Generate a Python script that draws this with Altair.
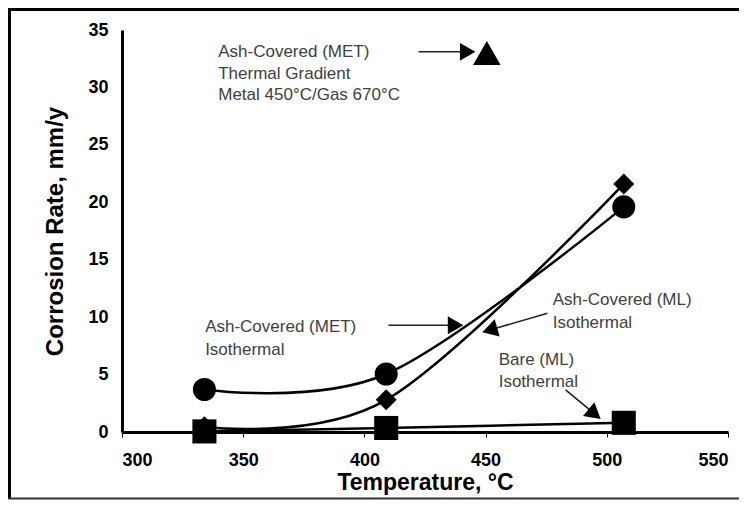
import math
import altair as alt
import pandas as pd

# ---- data ----
temps = [334, 409, 507]
met_iso = [3.7, 5.05, 19.6]        # Ash-Covered (MET) Isothermal  (circles)
ml_iso = [0.45, 2.8, 21.6]         # Ash-Covered (ML) Isothermal   (diamonds)
bare_ml = [0.05, 0.35, 0.8]        # Bare (ML) Isothermal          (squares)
grad_temp = [450.5]                # Ash-Covered (MET) Thermal Gradient (triangle)
grad_rate = [33.0]

x_ticks = [300, 350, 400, 450, 500, 550]
y_ticks = [0, 5, 10, 15, 20, 25, 30, 35]

ann_text = ["Ash-Covered (MET)", "Thermal Gradient", "Metal 450°C/Gas 670°C",
            "Ash-Covered (MET)", "Isothermal",
            "Ash-Covered (ML)", "Isothermal",
            "Bare (ML)", "Isothermal"]
ann_x = [339.7, 339.7, 339.7, 334.3, 334.3, 477.7, 477.7, 455.4, 455.4]
ann_y = [33.1, 31.2, 29.3, 9.14, 7.14, 11.49, 9.49, 6.27, 4.35]

arrow_x1 = [422.3, 409.9, 475.5, 483.0]
arrow_y1 = [33.1, 9.3, 10.33, 3.66]
arrow_x2 = [442.6, 437.6, 451.7, 495.0]
arrow_y2 = [33.1, 9.3, 8.88, 1.57]

W, H = 606, 402
XD, YD = [300, 550], [0, 35]
FONT = "Liberation Sans"

px_x = W / (XD[1] - XD[0])
px_y = H / (YD[1] - YD[0])
arrow_angle = [math.degrees(math.atan2(-(b2 - b1) * px_y, (a2 - a1) * px_x))
               for a1, b1, a2, b2 in zip(arrow_x1, arrow_y1, arrow_x2, arrow_y2)]

xscale = alt.Scale(domain=XD, nice=False, zero=False)
yscale = alt.Scale(domain=YD, nice=False, zero=False)
xaxis = alt.Axis(values=x_ticks, title="Temperature, °C", grid=False,
                 domainColor="black", domainWidth=3, tickColor="black",
                 tickSize=5, tickWidth=1, labelFontSize=18, labelFontWeight="bold",
                 labelColor="black", labelPadding=14, titleFontSize=23,
                 titleFontWeight="bold", titleColor="black", titlePadding=2,
                 labelFont=FONT, titleFont=FONT)
yaxis = alt.Axis(values=y_ticks, title="Corrosion Rate, mm/y", grid=False,
                 domainColor="black", domainWidth=3, ticks=False,
                 labelFontSize=18, labelFontWeight="bold", labelColor="black",
                 labelPadding=14, titleFontSize=24, titleFontWeight="bold",
                 titleColor="black", titlePadding=20, labelFont=FONT, titleFont=FONT)


def X(field):
    return alt.X(f"{field}:Q", scale=xscale, axis=xaxis)


def Y(field):
    return alt.Y(f"{field}:Q", scale=yscale, axis=yaxis)


layers = []
for vals, shape, size in [(met_iso, "circle", 530), (ml_iso, "diamond", 440),
                          (bare_ml, "square", 580)]:
    df = pd.DataFrame({"t": temps, "r": vals})
    base = alt.Chart(df)
    layers.append(base.mark_line(color="black", strokeWidth=2.5,
                                 interpolate="cardinal").encode(x=X("t"), y=Y("r")))
    layers.append(base.mark_point(shape=shape, size=size, filled=True,
                                  color="black", opacity=1).encode(x=X("t"), y=Y("r")))

grad_df = pd.DataFrame({"t": grad_temp, "r": grad_rate})
layers.append(alt.Chart(grad_df).mark_point(shape="triangle-up", size=760, filled=True,
                                            color="black", opacity=1)
              .encode(x=X("t"), y=Y("r")))

arr_df = pd.DataFrame({"x1": arrow_x1, "y1": arrow_y1, "x2": arrow_x2,
                       "y2": arrow_y2, "ang": arrow_angle})
layers.append(alt.Chart(arr_df).mark_rule(color="#222222", strokeWidth=1.6)
              .encode(x=X("x1"), y=Y("y1"), x2="x2:Q", y2="y2:Q"))
layers.append(alt.Chart(arr_df).mark_point(shape="triangle-right", size=320, filled=True,
                                           color="black", opacity=1)
              .encode(x=X("x2"), y=Y("y2"), angle=alt.Angle("ang:Q", scale=None)))

ann_df = pd.DataFrame({"x": ann_x, "y": ann_y, "text": ann_text})
layers.append(alt.Chart(ann_df).mark_text(align="left", baseline="middle", fontSize=17,
                                          font=FONT, color="#404040")
              .encode(x=X("x"), y=Y("y"), text="text:N"))

# outer frame (decoration)
PL, PT = 114, 22
TOTW, TOTH = 731, 492
fl = -PL + 1.5
ft = -PT + 1.5
fb = TOTH - PT - 1.5
fr = TOTW - PL
frame_src = pd.DataFrame({"d": [0]})
layers.append(alt.Chart(frame_src).mark_rule(color="black", strokeWidth=3)
              .encode(x=alt.value(fl), y=alt.value(ft), y2=alt.value(fb)))
layers.append(alt.Chart(frame_src).mark_rule(color="black", strokeWidth=3)
              .encode(x=alt.value(fl - 1.5), x2=alt.value(fr), y=alt.value(ft)))
layers.append(alt.Chart(frame_src).mark_rule(color="#333333", strokeWidth=2)
              .encode(x=alt.value(fl - 1.5), x2=alt.value(fr), y=alt.value(fb)))

chart = alt.layer(*layers).properties(
    width=W, height=H,
    padding={"left": PL, "top": PT, "right": TOTW - PL - W, "bottom": TOTH - PT - H},
    autosize=alt.AutoSizeParams(type="none"),
    background="white",
).configure_view(stroke=None)

chart.save("out.html", embed_options={"renderer": "svg", "actions": False})
